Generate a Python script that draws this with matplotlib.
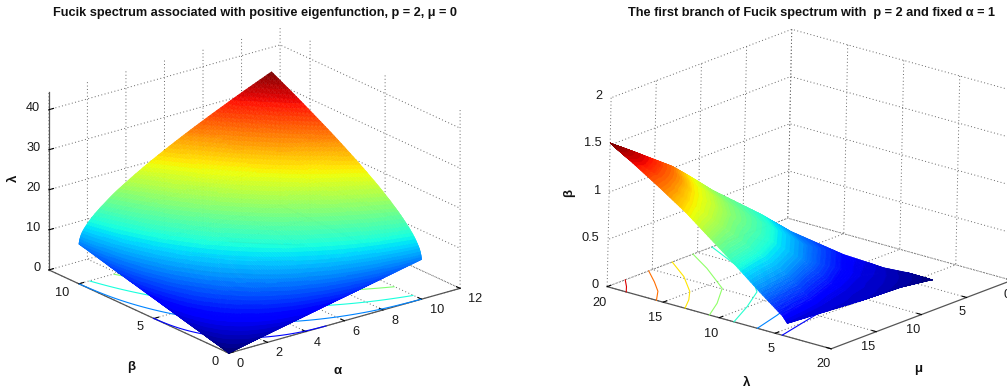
import numpy as np
import matplotlib
matplotlib.use("Agg")
import matplotlib.pyplot as plt
from matplotlib.tri import Triangulation, UniformTriRefiner, LinearTriInterpolator
from mpl_toolkits.mplot3d import Axes3D, proj3d

plt.rcParams['font.family'] = ['Liberation Sans', 'DejaVu Sans']
plt.rcParams['grid.linestyle'] = (0, (1, 2.5))
plt.rcParams['grid.color'] = '#666666'
plt.rcParams['grid.linewidth'] = 0.7

W, H = 1007, 389

# left surface
alpha_vals = [0, 0.1, 0.4, 0.9, 1.6, 2.5, 3.6, 4.9, 6.4, 8.1, 10]
beta_vals = [0, 0.1, 0.4, 0.9, 1.6, 2.5, 3.6, 4.9, 6.4, 8.1, 10]
lambda_vals = [
    [0.00, 0.10, 0.39, 0.89, 1.58, 2.47, 3.55, 4.84, 6.32, 7.99, 9.87],
    [0.10, 0.39, 0.89, 1.58, 2.47, 3.55, 4.84, 6.32, 7.99, 9.87, 11.94],
    [0.39, 0.89, 1.58, 2.47, 3.55, 4.84, 6.32, 7.99, 9.87, 11.94, 14.21],
    [0.89, 1.58, 2.47, 3.55, 4.84, 6.32, 7.99, 9.87, 11.94, 14.21, 16.68],
    [1.58, 2.47, 3.55, 4.84, 6.32, 7.99, 9.87, 11.94, 14.21, 16.68, 19.34],
    [2.47, 3.55, 4.84, 6.32, 7.99, 9.87, 11.94, 14.21, 16.68, 19.34, 22.21],
    [3.55, 4.84, 6.32, 7.99, 9.87, 11.94, 14.21, 16.68, 19.34, 22.21, 25.27],
    [4.84, 6.32, 7.99, 9.87, 11.94, 14.21, 16.68, 19.34, 22.21, 25.27, 28.52],
    [6.32, 7.99, 9.87, 11.94, 14.21, 16.68, 19.34, 22.21, 25.27, 28.52, 31.98],
    [7.99, 9.87, 11.94, 14.21, 16.68, 19.34, 22.21, 25.27, 28.52, 31.98, 35.63],
    [9.87, 11.94, 14.21, 16.68, 19.34, 22.21, 25.27, 28.52, 31.98, 35.63, 39.48],
]
left_levels = [5, 10, 15, 20, 25, 30, 35]

# right surface: one row per beta level, columns run from upper edge to lower edge
right_beta = [1.52, 1.4, 1.2, 1.0, 0.8, 0.6, 0.4, 0.2, 0.137, 0.1, 0.05, 0.0]
right_lam = [
    [20.0, 20.0, 20.0, 20.0, 20.0],
    [18.5, 18.14, 17.98, 18.04, 18.3],
    [17.73, 16.96, 16.35, 15.9, 15.6],
    [18.2, 16.69, 15.33, 14.12, 13.05],
    [17.41, 15.2, 13.37, 11.93, 10.87],
    [14.37, 12.23, 10.57, 9.39, 8.68],
    [13.04, 10.53, 8.62, 7.31, 6.59],
    [9.68, 7.73, 6.2, 5.08, 4.37],
    [8.09, 6.49, 5.26, 4.41, 3.94],
    [7.1, 5.91, 4.95, 4.21, 3.7],
    [5.74, 5.06, 4.56, 4.25, 4.13],
    [4.17, 4.17, 4.17, 4.17, 4.17],
]
right_mu = [
    [20.0, 20.0, 20.0, 20.0, 20.0],
    [18.49, 19.03, 19.46, 19.78, 20.0],
    [15.85, 16.79, 17.79, 18.86, 20.0],
    [13.44, 14.8, 16.35, 18.08, 20.0],
    [11.63, 13.09, 14.97, 17.27, 20.0],
    [10.15, 11.79, 13.98, 16.72, 20.0],
    [8.45, 10.11, 12.59, 15.89, 20.0],
    [6.7, 9.19, 12.23, 15.84, 20.0],
    [5.89, 8.49, 11.71, 15.55, 20.0],
    [5.46, 6.85, 8.44, 10.23, 12.21],
    [4.36, 4.94, 5.61, 6.38, 7.24],
    [3.64, 3.64, 3.64, 3.64, 3.64],
]

# floor contours of the right chart (beta level, lambda points, mu points)
contour_levels = [1.4, 1.2, 1.0, 0.8, 0.6, 0.4, 0.2]
contour_lam = [
    [18.3, 19.0, 20.0],
    [15.6, 16.76, 18.2, 20.0],
    [13.05, 14.0, 15.08, 17.43, 20.0],
    [10.87, 12.07, 13.84, 17.34, 20.0],
    [8.68, 10.05, 11.56, 13.88, 16.85, 20.0],
    [6.59, 7.35, 8.5],
    [4.37, 5.46, 6.5],
]
contour_mu = [
    [20.0, 19.1, 18.0],
    [20.0, 18.4, 17.0, 15.4],
    [20.0, 18.4, 16.95, 14.7, 12.8],
    [20.0, 17.66, 14.9, 12.25, 10.5],
    [20.0, 16.85, 13.88, 11.56, 10.05, 8.4],
    [20.0, 16.88, 13.0],
    [20.0, 14.76, 10.0],
]

left_x_ticks = [0, 2, 4, 6, 8, 10, 12]
left_y_ticks = [0, 5, 10]
left_z_ticks = [0, 10, 20, 30, 40]
right_x_ticks = [5, 10, 15, 20]
right_y_ticks = [0, 5, 10, 15, 20]
right_z_ticks = [0, 0.5, 1, 1.5, 2]


def smooth_mesh(x, y, z, subdiv=4, linear=False):
    # only thins out the table for shading, like shading interp does
    x, y, z = np.asarray(x, float), np.asarray(y, float), np.asarray(z, float)
    jj, ii = np.meshgrid(np.arange(x.shape[1]), np.arange(x.shape[0]))
    base = Triangulation(jj.ravel().astype(float), ii.ravel().astype(float))
    refiner = UniformTriRefiner(base)
    out = []
    for field in (x, y, z):
        interp = LinearTriInterpolator(base, field.ravel()) if linear else None
        fine, vals = refiner.refine_field(field.ravel(), triinterpolator=interp, subdiv=subdiv)
        out.append(vals)
    return Triangulation(out[0], out[1], fine.triangles), out[2]


def make_axes(left, bottom, side, elev, azim, roll, aspect):
    ax = plt.gcf().add_axes([left / W, bottom / H, side / W, side / H], projection='3d')
    ax.view_init(elev=elev, azim=azim, roll=roll)
    ax.set_proj_type('ortho')
    ax.set_box_aspect(aspect)
    ax.patch.set_visible(False)
    ax.computed_zorder = False
    for axis in (ax.xaxis, ax.yaxis, ax.zaxis):
        axis.set_pane_color((1, 1, 1, 0))
        axis.pane.set_edgecolor((1, 1, 1, 0))
        axis.line.set_color('#555555')
        axis.line.set_linewidth(0.9)
        axis._axinfo['tick']['inward_factor'] = 0.0
        axis._axinfo['tick']['outward_factor'] = 0.25
        axis._axinfo['tick']['linewidth'] = {True: 0.8, False: 0.5}
        axis._axinfo['tick']['color'] = '#555555'
    return ax


def set_ticks(ax, x_ticks, y_ticks, z_ticks):
    ax.set_xticks(x_ticks)
    ax.set_yticks(y_ticks)
    ax.set_zticks(z_ticks)
    ax.set_xticklabels([])
    ax.set_yticklabels([])
    ax.set_zticklabels([])


def tick_text(ax, x, y, z, value, ha, dx, dy):
    # tick label next to its projected tick, shifted by (dx, dy) pixels on the page
    px, py, _ = proj3d.proj_transform(x, y, z, ax.get_proj())
    ax.annotate(f'{value:g}', (px, py), xytext=(dx, dy), textcoords='offset pixels',
                ha=ha, va='center', fontsize=9.2, color='#1a1a1a', annotation_clip=False)


fig = plt.figure(figsize=(W / 100, H / 100), dpi=100, facecolor='white')
jet = plt.get_cmap('jet', 64)

# left chart
ax1 = make_axes(27, -28.5, 443, 21.1, 232.1, 0, (1, 1, 0.652))
A, B = np.meshgrid(alpha_vals, beta_vals)
tri, lam = smooth_mesh(A, B, lambda_vals)
ax1.tricontour(tri, lam, levels=left_levels, zdir='z', offset=0, cmap=jet,
               vmin=0, vmax=39.48, linewidths=0.8, zorder=1)
surf1 = ax1.plot_trisurf(tri, lam, cmap=jet, vmin=0, vmax=39.48, linewidth=0.3, zorder=2)
surf1.set_edgecolor('face')
ax1.set_xlim(0, 12, view_margin=0)
ax1.set_ylim(0, 12, view_margin=0)
ax1.set_zlim(0, 44.5, view_margin=0)
set_ticks(ax1, left_x_ticks, left_y_ticks, left_z_ticks)
for t in left_x_ticks:
    tick_text(ax1, t, 0, 0, t, 'left', 8, -11)
for t in left_y_ticks:
    tick_text(ax1, 0, t, 0, t, 'right', -10, -9)
for t in left_z_ticks:
    tick_text(ax1, 0, 12, t, t, 'right', -8.5, 2)

# right chart
ax2 = make_axes(585.5, -26, 440, 18.7, 128.5, -1.2, (1, 1, 0.693))
tri2, bet = smooth_mesh(right_lam, right_mu,
                        np.repeat(np.array(right_beta)[:, None], 5, axis=1), linear=True)
for level, xs, ys in zip(contour_levels, contour_lam, contour_mu):
    ax2.plot(xs, ys, 0, color=jet(level / 1.52), linewidth=0.8, zorder=1)
surf2 = ax2.plot_trisurf(tri2, bet, cmap=jet, vmin=0, vmax=1.52, linewidth=0.3, zorder=2)
surf2.set_edgecolor('face')
ax2.set_xlim(0, 20, view_margin=0)
ax2.set_ylim(0, 20, view_margin=0)
ax2.set_zlim(0, 2, view_margin=0)
set_ticks(ax2, right_x_ticks, right_y_ticks, right_z_ticks)
ax2.zaxis.set_ticks_position('lower')
for t in right_x_ticks:
    tick_text(ax2, t, 20, 0, t, 'right', -1, -16)
for t in right_y_ticks:
    tick_text(ax2, 0, t, 0, t, 'right', -1, -15)
for t in right_z_ticks:
    tick_text(ax2, 20, 20, t, t, 'right', -8.5, 1.5)


def px_text(x, y, s, **kw):
    fig.text(x / W, 1 - y / H, s, ha='center', va='center', **kw)


title_kw = dict(fontsize=9.2, fontweight='bold', color='#111111')
px_text(255, 13, 'Fucik spectrum associated with positive eigenfunction, p = 2, \u03bc = 0', **title_kw)
px_text(812, 13, 'The first branch of Fucik spectrum with  p = 2 and fixed \u03b1 = 1', **title_kw)

label_kw = dict(fontsize=9.5, fontweight='bold', color='#111111')
px_text(338, 371, '\u03b1', **label_kw)
px_text(131, 367, '\u03b2', **label_kw)
px_text(14, 178, '\u03bb', rotation=90, **label_kw)
px_text(569, 193, '\u03b2', rotation=90, **label_kw)
px_text(747, 383, '\u03bb', **label_kw)
px_text(918, 369, '\u03bc', **label_kw)

fig.savefig('out.png', dpi=100)
